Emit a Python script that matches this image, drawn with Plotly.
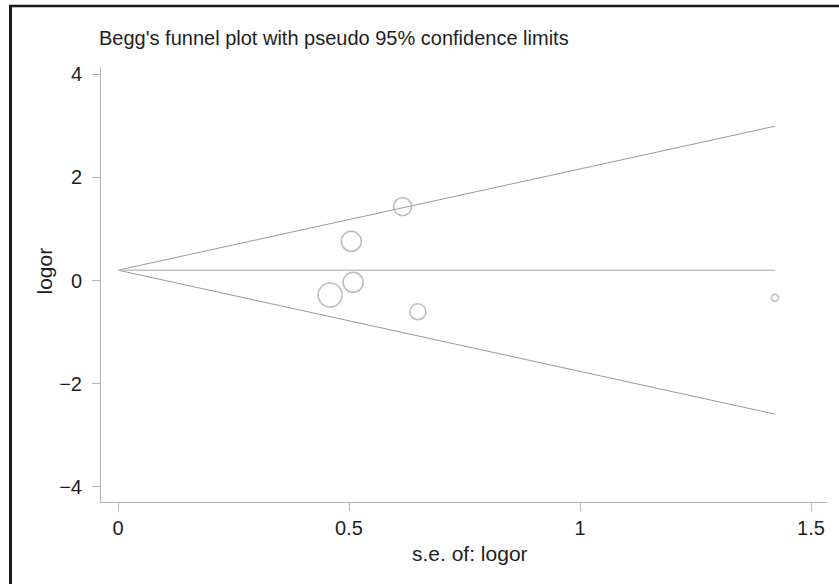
import plotly.graph_objects as go

# Study data
se = [0.616, 0.505, 0.509, 0.459, 0.649, 1.422]
logor = [1.43, 0.76, -0.035, -0.28, -0.605, -0.335]
marker_size = [18, 20, 20, 24, 16, 7]

# Pseudo 95% confidence limits and pooled estimate
funnel_se = [0, 1.422]
upper_limit = [0.2, 2.99]
lower_limit = [0.2, -2.59]
pooled_line = [0.2, 0.2]

x_ticks = [0, 0.5, 1, 1.5]
x_tick_text = ["0", "0.5", "1", "1.5"]
y_ticks = [-4, -2, 0, 2, 4]
y_tick_text = ["\u22124", "\u22122", "0", "2", "4"]

FONT = "Liberation Sans, Arial, sans-serif"
TXT = "#1e1e1e"

fig = go.Figure()
fig.add_trace(go.Scatter(x=funnel_se, y=upper_limit, mode="lines",
                         line=dict(color="#9a9a9a", width=1), hoverinfo="skip"))
fig.add_trace(go.Scatter(x=funnel_se, y=lower_limit, mode="lines",
                         line=dict(color="#9a9a9a", width=1), hoverinfo="skip"))
fig.add_trace(go.Scatter(x=funnel_se, y=pooled_line, mode="lines",
                         line=dict(color="#c4c4c4", width=1.5), hoverinfo="skip"))
fig.add_trace(go.Scatter(x=se, y=logor, mode="markers",
                         marker=dict(symbol="circle", size=marker_size,
                                     color="rgba(0,0,0,0)",
                                     line=dict(color="#a0a0a0", width=1.5))))

fig.update_layout(
    width=839, height=584,
    margin=dict(l=101, r=12, t=67, b=82),
    paper_bgcolor="white", plot_bgcolor="white",
    showlegend=False,
    font=dict(family=FONT, size=20, color=TXT),
    xaxis=dict(range=[-0.0368, 1.5346], tickvals=x_ticks, ticktext=x_tick_text,
               showgrid=False, zeroline=False, showline=True,
               linecolor="#b4b4b4", linewidth=1,
               ticks="outside", ticklen=8, tickcolor="#b4b4b4", tickwidth=1,
               tickfont=dict(size=20, color=TXT)),
    yaxis=dict(range=[-4.293, 4.138], tickvals=y_ticks, ticktext=y_tick_text,
               showgrid=False, zeroline=False, showline=True,
               linecolor="#b4b4b4", linewidth=1,
               ticks="outside", ticklen=8, tickcolor="#b4b4b4", tickwidth=1,
               tickfont=dict(size=20, color=TXT), ticklabelstandoff=6),
    annotations=[
        dict(text="Begg's funnel plot with pseudo 95% confidence limits",
             xref="paper", yref="paper", x=-0.006, y=1.0, yshift=29,
             xanchor="left", yanchor="middle", showarrow=False,
             font=dict(size=20, color=TXT, family=FONT)),
        dict(text="logor", xref="paper", yref="paper", x=0, y=0.5, xshift=-57,
             yshift=13, textangle=-90, xanchor="center", yanchor="middle",
             showarrow=False, font=dict(size=21, color=TXT, family=FONT)),
        dict(text="s.e. of: logor", xref="paper", yref="paper", x=0.5, y=0,
             yshift=-51, xshift=6, xanchor="center", yanchor="middle",
             showarrow=False, font=dict(size=21, color=TXT, family=FONT)),
    ],
)

# Frame lines on the left and top of the figure
fig.update_layout(shapes=[
    dict(type="line", xref="paper", yref="paper",
         x0=(10.5 - 101) / 726, x1=(10.5 - 101) / 726,
         y0=(502 - 584) / 435, y1=(502 - 5) / 435,
         line=dict(color="#1a1a1a", width=3)),
    dict(type="line", xref="paper", yref="paper",
         x0=(9 - 101) / 726, x1=(839 - 101) / 726,
         y0=(502 - 6) / 435, y1=(502 - 6) / 435,
         line=dict(color="#1a1a1a", width=2.5)),
])

fig.write_html("out.html")
